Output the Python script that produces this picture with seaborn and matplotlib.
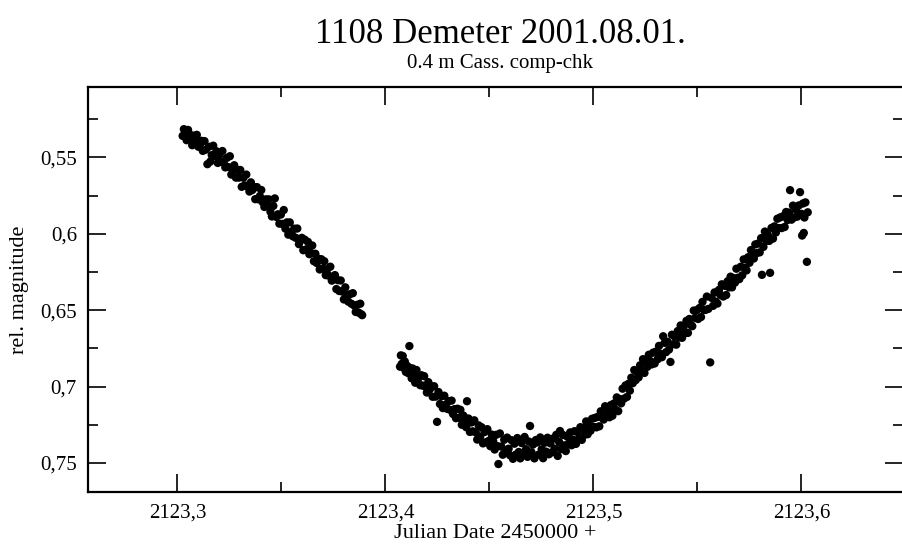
import matplotlib
matplotlib.use("Agg")
import matplotlib.pyplot as plt
from matplotlib.ticker import MultipleLocator, FuncFormatter
import seaborn as sns
import pandas as pd

# Julian Date 2450000 + (2123 + day fraction)
base_day = 2123.0

# first run of the night (fading branch)
frac_a = [
    0.3025, 0.3031, 0.3038, 0.3044, 0.3051, 0.3058, 0.3064, 0.3071, 0.3079, 0.3086,
    0.3093, 0.3101, 0.3108, 0.3115, 0.3122, 0.3130, 0.3137, 0.3144, 0.3151, 0.3158,
    0.3165, 0.3172, 0.3180, 0.3187, 0.3194, 0.3201, 0.3208, 0.3216, 0.3223, 0.3230,
    0.3237, 0.3245, 0.3252, 0.3259, 0.3266, 0.3273, 0.3281, 0.3288, 0.3295, 0.3302,
    0.3309, 0.3317, 0.3324, 0.3331, 0.3338, 0.3346, 0.3353, 0.3360, 0.3367, 0.3374,
    0.3382, 0.3389, 0.3396, 0.3403, 0.3410, 0.3418, 0.3425, 0.3432, 0.3439, 0.3447,
    0.3454, 0.3461, 0.3468, 0.3475, 0.3483, 0.3490, 0.3497, 0.3504, 0.3511, 0.3519,
    0.3526, 0.3533, 0.3540, 0.3548, 0.3555, 0.3562, 0.3569, 0.3576, 0.3584, 0.3591,
    0.3598, 0.3605, 0.3612, 0.3620, 0.3627, 0.3634, 0.3641, 0.3648, 0.3656, 0.3663,
    0.3670, 0.3677, 0.3684, 0.3692, 0.3699, 0.3706, 0.3713, 0.3720, 0.3728, 0.3735,
    0.3742, 0.3749, 0.3757, 0.3764, 0.3771, 0.3778, 0.3785, 0.3793, 0.3800, 0.3807,
    0.3814, 0.3821, 0.3829, 0.3836, 0.3843, 0.3850, 0.3857, 0.3865, 0.3872, 0.3879,
    0.3884, 0.3888,
]
mag_a = [
    0.5360, 0.5316, 0.5352, 0.5388, 0.5321, 0.5378, 0.5354, 0.5421, 0.5359, 0.5396,
    0.5353, 0.5431, 0.5416, 0.5392, 0.5458, 0.5394, 0.5450, 0.5545, 0.5431, 0.5528,
    0.5486, 0.5424, 0.5492, 0.5460, 0.5537, 0.5484, 0.5530, 0.5459, 0.5528, 0.5566,
    0.5504, 0.5564, 0.5493, 0.5613, 0.5572, 0.5552, 0.5633, 0.5583, 0.5633, 0.5583,
    0.5693, 0.5634, 0.5684, 0.5613, 0.5693, 0.5724, 0.5664, 0.5714, 0.5694, 0.5774,
    0.5695, 0.5775, 0.5754, 0.5714, 0.5794, 0.5825, 0.5775, 0.5815, 0.5775, 0.5856,
    0.5887, 0.5818, 0.5769, 0.5890, 0.5873, 0.5934, 0.5875, 0.5936, 0.5845, 0.5967,
    0.5926, 0.6006, 0.5926, 0.5987, 0.6017, 0.5967, 0.6027, 0.5966, 0.6068, 0.6037,
    0.6027, 0.6108, 0.6039, 0.6102, 0.6053, 0.6134, 0.6126, 0.6077, 0.6180, 0.6131,
    0.6192, 0.6163, 0.6234, 0.6167, 0.6228, 0.6180, 0.6271, 0.6232, 0.6275, 0.6216,
    0.6307, 0.6298, 0.6271, 0.6362, 0.6304, 0.6375, 0.6306, 0.6379, 0.6430, 0.6351,
    0.6402, 0.6444, 0.6396, 0.6458, 0.6389, 0.6470, 0.6512, 0.6465, 0.6517, 0.6458,
    0.6527, 0.6533,
]

# second run (minimum and rising branch)
frac_b = [
    0.4070, 0.4074, 0.4078, 0.4083, 0.4088, 0.4093, 0.4098, 0.4104, 0.4109, 0.4115,
    0.4120, 0.4126, 0.4131, 0.4137, 0.4143, 0.4149, 0.4155, 0.4161, 0.4167, 0.4173,
    0.4179, 0.4186, 0.4192, 0.4199, 0.4206, 0.4213, 0.4220, 0.4227, 0.4234, 0.4241,
    0.4248, 0.4255, 0.4262, 0.4269, 0.4276, 0.4283, 0.4290, 0.4297, 0.4304, 0.4311,
    0.4318, 0.4325, 0.4332, 0.4339, 0.4346, 0.4353, 0.4360, 0.4367, 0.4374, 0.4381,
    0.4388, 0.4392, 0.4399, 0.4406, 0.4413, 0.4420, 0.4427, 0.4434, 0.4441, 0.4448,
    0.4455, 0.4462, 0.4469, 0.4476, 0.4483, 0.4490, 0.4497, 0.4504, 0.4511, 0.4518,
    0.4525, 0.4532, 0.4539, 0.4543, 0.4550, 0.4557, 0.4564, 0.4571, 0.4578, 0.4585,
    0.4592, 0.4599, 0.4606, 0.4613, 0.4620, 0.4627, 0.4634, 0.4641, 0.4648, 0.4655,
    0.4662, 0.4669, 0.4676, 0.4683, 0.4690, 0.4695, 0.4702, 0.4709, 0.4716, 0.4723,
    0.4730, 0.4737, 0.4744, 0.4751, 0.4758, 0.4765, 0.4772, 0.4779, 0.4786, 0.4793,
    0.4800, 0.4807, 0.4814, 0.4821, 0.4828, 0.4835, 0.4839, 0.4846, 0.4853, 0.4860,
    0.4867, 0.4874, 0.4881, 0.4888, 0.4895, 0.4902, 0.4909, 0.4916, 0.4923, 0.4930,
    0.4937, 0.4944, 0.4951, 0.4958, 0.4965, 0.4972, 0.4979, 0.4986, 0.4993, 0.5000,
    0.5007, 0.5014, 0.5021, 0.5028, 0.5035, 0.5042, 0.5049, 0.5056, 0.5063, 0.5070,
    0.5077, 0.5084, 0.5091, 0.5098, 0.5105, 0.5112, 0.5119, 0.5126, 0.5133, 0.5140,
    0.5147, 0.5154, 0.5161, 0.5168, 0.5175, 0.5182, 0.5189, 0.5196, 0.5203, 0.5210,
    0.5217, 0.5224, 0.5231, 0.5238, 0.5245, 0.5252, 0.5259, 0.5266, 0.5273, 0.5280,
    0.5287, 0.5294, 0.5301, 0.5308, 0.5315, 0.5322, 0.5329, 0.5335, 0.5342, 0.5349,
    0.5356, 0.5363, 0.5370, 0.5377, 0.5384, 0.5391, 0.5398, 0.5405, 0.5412, 0.5419,
    0.5426, 0.5433, 0.5440, 0.5447, 0.5454, 0.5461, 0.5468, 0.5475, 0.5482, 0.5489,
    0.5496, 0.5503, 0.5510, 0.5517, 0.5524, 0.5531, 0.5538, 0.5545, 0.5552, 0.5561,
    0.5568, 0.5575, 0.5582, 0.5589, 0.5596, 0.5603, 0.5610, 0.5617, 0.5624, 0.5631,
    0.5638, 0.5645, 0.5652, 0.5659, 0.5666, 0.5673, 0.5680, 0.5687, 0.5694, 0.5701,
    0.5708, 0.5715, 0.5722, 0.5729, 0.5736, 0.5743, 0.5750, 0.5757, 0.5764, 0.5771,
    0.5778, 0.5785, 0.5792, 0.5799, 0.5806, 0.5810, 0.5817, 0.5824, 0.5831, 0.5838,
    0.5845, 0.5849, 0.5856, 0.5863, 0.5870, 0.5877, 0.5884, 0.5891, 0.5898, 0.5905,
    0.5912, 0.5919, 0.5926, 0.5933, 0.5940, 0.5945, 0.5952, 0.5959, 0.5966, 0.5973,
    0.5980, 0.5987, 0.5993, 0.6000, 0.6003, 0.6007, 0.6011, 0.6014, 0.6019, 0.6026,
    0.6030,
]
mag_b = [
    0.6870, 0.6796, 0.6852, 0.6800, 0.6878, 0.6836, 0.6904, 0.6864, 0.6912, 0.6735,
    0.6880, 0.6946, 0.6882, 0.6929, 0.6975, 0.6892, 0.6958, 0.6935, 0.6991, 0.6926,
    0.6994, 0.6932, 0.7000, 0.7039, 0.6971, 0.7019, 0.6998, 0.7067, 0.6998, 0.7066,
    0.7231, 0.7036, 0.7114, 0.7063, 0.7141, 0.7060, 0.7118, 0.7146, 0.7095, 0.7153,
    0.7092, 0.7180, 0.7148, 0.7207, 0.7145, 0.7204, 0.7152, 0.7250, 0.7189, 0.7227,
    0.7266, 0.7096, 0.7209, 0.7297, 0.7235, 0.7293, 0.7221, 0.7299, 0.7347, 0.7254,
    0.7330, 0.7266, 0.7372, 0.7298, 0.7364, 0.7279, 0.7355, 0.7390, 0.7314, 0.7358,
    0.7412, 0.7316, 0.7390, 0.7507, 0.7307, 0.7393, 0.7446, 0.7348, 0.7421, 0.7334,
    0.7407, 0.7450, 0.7351, 0.7473, 0.7374, 0.7445, 0.7337, 0.7428, 0.7470, 0.7370,
    0.7440, 0.7330, 0.7410, 0.7460, 0.7360, 0.7258, 0.7430, 0.7380, 0.7470, 0.7350,
    0.7366, 0.7445, 0.7333, 0.7411, 0.7469, 0.7368, 0.7426, 0.7335, 0.7443, 0.7372,
    0.7430, 0.7339, 0.7407, 0.7316, 0.7454, 0.7363, 0.7291, 0.7409, 0.7317, 0.7385,
    0.7422, 0.7328, 0.7374, 0.7300, 0.7384, 0.7348, 0.7292, 0.7375, 0.7298, 0.7342,
    0.7266, 0.7349, 0.7272, 0.7315, 0.7228, 0.7312, 0.7256, 0.7289, 0.7211, 0.7264,
    0.7205, 0.7267, 0.7198, 0.7260, 0.7162, 0.7204, 0.7216, 0.7129, 0.7192, 0.7155,
    0.7201, 0.7121, 0.7191, 0.7111, 0.7151, 0.7071, 0.7161, 0.7082, 0.7110, 0.7014,
    0.7079, 0.6993, 0.7068, 0.6982, 0.7027, 0.6942, 0.6978, 0.6892, 0.6958, 0.6904,
    0.6940, 0.6861, 0.6901, 0.6821, 0.6911, 0.6831, 0.6871, 0.6792, 0.6833, 0.6855,
    0.6778, 0.6849, 0.6771, 0.6822, 0.6734, 0.6786, 0.6808, 0.6671, 0.6714, 0.6775,
    0.6707, 0.6758, 0.6839, 0.6661, 0.6723, 0.6674, 0.6726, 0.6637, 0.6679, 0.6600,
    0.6681, 0.6610, 0.6650, 0.6570, 0.6649, 0.6558, 0.6596, 0.6605, 0.6503, 0.6551,
    0.6500, 0.6558, 0.6486, 0.6545, 0.6446, 0.6498, 0.6499, 0.6411, 0.6492, 0.6842,
    0.6420, 0.6472, 0.6384, 0.6445, 0.6457, 0.6368, 0.6400, 0.6331, 0.6411, 0.6341,
    0.6401, 0.6311, 0.6351, 0.6281, 0.6351, 0.6290, 0.6320, 0.6229, 0.6288, 0.6297,
    0.6216, 0.6272, 0.6168, 0.6224, 0.6240, 0.6154, 0.6190, 0.6107, 0.6145, 0.6162,
    0.6070, 0.6127, 0.6064, 0.6122, 0.6029, 0.6269, 0.6086, 0.5986, 0.6047, 0.6007,
    0.6047, 0.6256, 0.5962, 0.6032, 0.5952, 0.5992, 0.5902, 0.5963, 0.5893, 0.5963,
    0.5885, 0.5956, 0.5858, 0.5910, 0.5862, 0.5715, 0.5908, 0.5816, 0.5893, 0.5841,
    0.5888, 0.5815, 0.5728, 0.5870, 0.6012, 0.5802, 0.5995, 0.5894, 0.5795, 0.6184,
    0.5860,
]

title_text = "1108 Demeter 2001.08.01."
subtitle_text = "0.4 m Cass. comp-chk"
xlabel_text = "Julian Date 2450000 +"
ylabel_text = "rel. magnitude"

df = pd.DataFrame({
    "jd": [base_day + f for f in frac_a + frac_b],
    "mag": mag_a + mag_b,
})

sns.set_theme(style="ticks")
plt.rcParams["font.family"] = ["Liberation Serif", "DejaVu Serif"]

fig = plt.figure(figsize=(9.03, 5.49), dpi=100)
ax = fig.add_axes([88 / 903, 57 / 549, 815 / 903, 405 / 549])

sns.scatterplot(data=df, x="jd", y="mag", ax=ax, color="black",
                s=36, linewidth=0, edgecolor="none", legend=False)

ax.set_xlim(2123.2570, 2123.6488)
ax.set_ylim(0.769, 0.504)

ax.xaxis.set_major_locator(MultipleLocator(0.1))
ax.xaxis.set_minor_locator(MultipleLocator(0.05))
ax.yaxis.set_major_locator(MultipleLocator(0.05))
ax.yaxis.set_minor_locator(MultipleLocator(0.025))

comma = FuncFormatter(lambda v, p: f"{v:.10g}".replace(".", ","))
ax.xaxis.set_major_formatter(comma)
ax.yaxis.set_major_formatter(comma)

ax.tick_params(which="both", direction="in", top=True, right=True,
               width=1.2, color="black", labelsize=15, labelcolor="black")
ax.tick_params(which="major", length=13, pad=8)
ax.tick_params(which="minor", length=7)

for side in ("left", "top", "bottom"):
    ax.spines[side].set_linewidth(1.6)
    ax.spines[side].set_color("black")
ax.spines["right"].set_visible(False)

ax.set_xlabel(xlabel_text, fontsize=16, labelpad=1, color="black")
ax.set_ylabel(ylabel_text, fontsize=16, labelpad=8, color="black")

fig.text(0.554, 0.921, title_text, ha="center", va="baseline", fontsize=25, color="black")
fig.text(0.554, 0.876, subtitle_text, ha="center", va="baseline", fontsize=15, color="black")

fig.savefig("out.png", dpi=100, facecolor="white")
